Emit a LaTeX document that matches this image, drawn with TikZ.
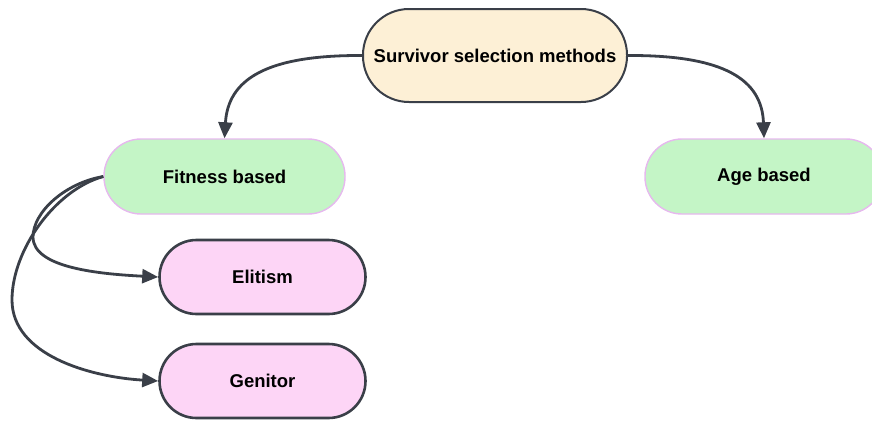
\documentclass[tikz,border=0pt]{standalone}
\usepackage{fontspec}
\setmainfont{Liberation Sans}
\usetikzlibrary{arrows.meta}
\definecolor{edgec}{HTML}{3A3F48}
\definecolor{creamfill}{HTML}{FDF0D6}
\definecolor{greenfill}{HTML}{C4F5C6}
\definecolor{lilac}{HTML}{E6B8EE}
\definecolor{pinkfill}{HTML}{FDD5F6}
\begin{document}
\begin{tikzpicture}[x=1pt,y=-1pt,
  pill/.style={rounded corners=#1, inner sep=0pt, font=\fontsize{18.5}{22}\selectfont\bfseries},
  rootbox/.style={pill=46pt, draw=edgec, line width=2pt, fill=creamfill, minimum width=264pt, minimum height=93pt},
  groupbox/.style={pill=37pt, draw=lilac, line width=1.4pt, fill=greenfill, minimum width=241pt, minimum height=75pt},
  leafbox/.style={pill=37pt, draw=edgec, line width=2.6pt, fill=pinkfill, minimum width=206pt, minimum height=74pt},
  link/.style={draw=edgec, line width=2.8pt, -{Triangle[length=16pt,width=14pt]}}
]
\useasboundingbox (0,0) rectangle (872,421);
\begin{scope}
\clip (0,0) rectangle (872,421);
\node[rootbox] (root) at (495,55.5) {Survivor selection methods};
\node[groupbox] (fit) at (224.5,176.5) {Fitness based};
\node[groupbox, minimum width=238pt] (age) at (764,176.5) {Age based};
\node[leafbox] (eli) at (262.5,277) {Elitism};
\node[leafbox] (gen) at (262.5,381) {Genitor};

\draw[link] (root.west) .. controls (265,55) and (228,80) .. (fit.north);
\draw[link] (root.east) .. controls (725,55) and (762,80) .. (age.north);
\draw[link] (fit.west) .. controls (65,183) and (33,212) .. (33,237)
   .. controls (33,268) and (100,274) .. (eli.west);
\draw[link] (fit.west) .. controls (55,190) and (12,250) .. (12,300)
   .. controls (12,355) and (90,377) .. (gen.west);
\end{scope}
\end{tikzpicture}
\end{document}
